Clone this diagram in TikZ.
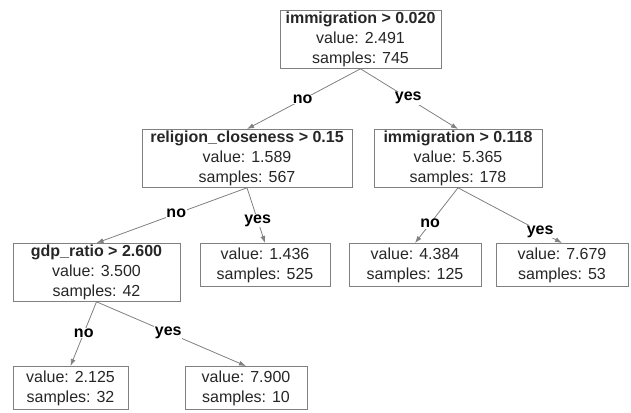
\documentclass[tikz,border=0pt]{standalone}
\usepackage{fontspec}
\setmainfont{Liberation Sans}
\usetikzlibrary{arrows.meta}
\tikzset{every picture/.style={/utils/exec={\fontsize{16}{20}\selectfont}},
  every node/.style={align=center},
  split/.style={ % Sets the properties for each decision box
    draw=gray, line width=0.8pt, text=black!85,
    anchor=north, inner sep=0pt, minimum height=58pt},
  leaf/.style={split, minimum height=43pt},
  answer/.style={font=\bfseries, text=black, fill=white, inner sep=0.5pt},
  every edge/.style={ % Sets the properties for each branch
    draw=gray, line width=0.8pt,
    -{Latex[length=7pt,width=5pt]}}}
\begin{document}
\begin{tikzpicture}[x=1pt,y=-1pt]
  \useasboundingbox (0,0) rectangle (631,412);

  \node [split, minimum width=161pt] (nroot) at (360.5,10) {
    \textbf{immigration > 0.020}\\
    value: 2.491\\
    samples: 745};

  \node [split, minimum width=210pt] (nrel) at (247,129) {
    \textbf{religion\_closeness > 0.15}\\
    value: 1.589\\
    samples: 567};

  \node [split, minimum width=168pt] (nimm) at (458,129) {
    \textbf{immigration > 0.118}\\
    value: 5.365\\
    samples: 178};

  \node [split, minimum width=167pt] (ngdp) at (96.5,243) {
    \textbf{gdp\_ratio > 2.600}\\
    value: 3.500\\
    samples: 42};

  \node [leaf, minimum width=130pt] (lrel) at (265,243) {
    value: 1.436\\
    samples: 525};

  \node [leaf, minimum width=132pt] (limmno) at (415,243) {
    value: 4.384\\
    samples: 125};

  \node [leaf, minimum width=132pt] (limmyes) at (562,243) {
    value: 7.679\\
    samples: 53};

  \node [leaf, minimum width=115pt] (lgdpno) at (70.5,366) {
    value: 2.125\\
    samples: 32};

  \node [leaf, minimum width=122pt] (lgdpyes) at (246,366) {
    value: 7.900\\
    samples: 10};

  \draw (nroot.south) edge node[answer, pos=.51] {no} (nrel.north);
  \draw (nroot.south) edge node[answer, pos=.49] {yes} (nimm.north);

  \draw (nrel.south) edge node[answer, pos=.47] {no} (ngdp.north);
  \draw (nrel.south) edge node[answer, pos=.59] {yes} (lrel.north);

  \draw (nimm.south) edge node[answer, pos=.65] {no} (limmno.north);
  \draw (nimm.south) edge node[answer, pos=.79] {yes} (limmyes.north);

  \draw (ngdp.south) edge node[answer, pos=.49] {no} (lgdpno.north);
  \draw (ngdp.south) edge node[answer, pos=.48] {yes} (lgdpyes.north);
\end{tikzpicture}
\end{document}
